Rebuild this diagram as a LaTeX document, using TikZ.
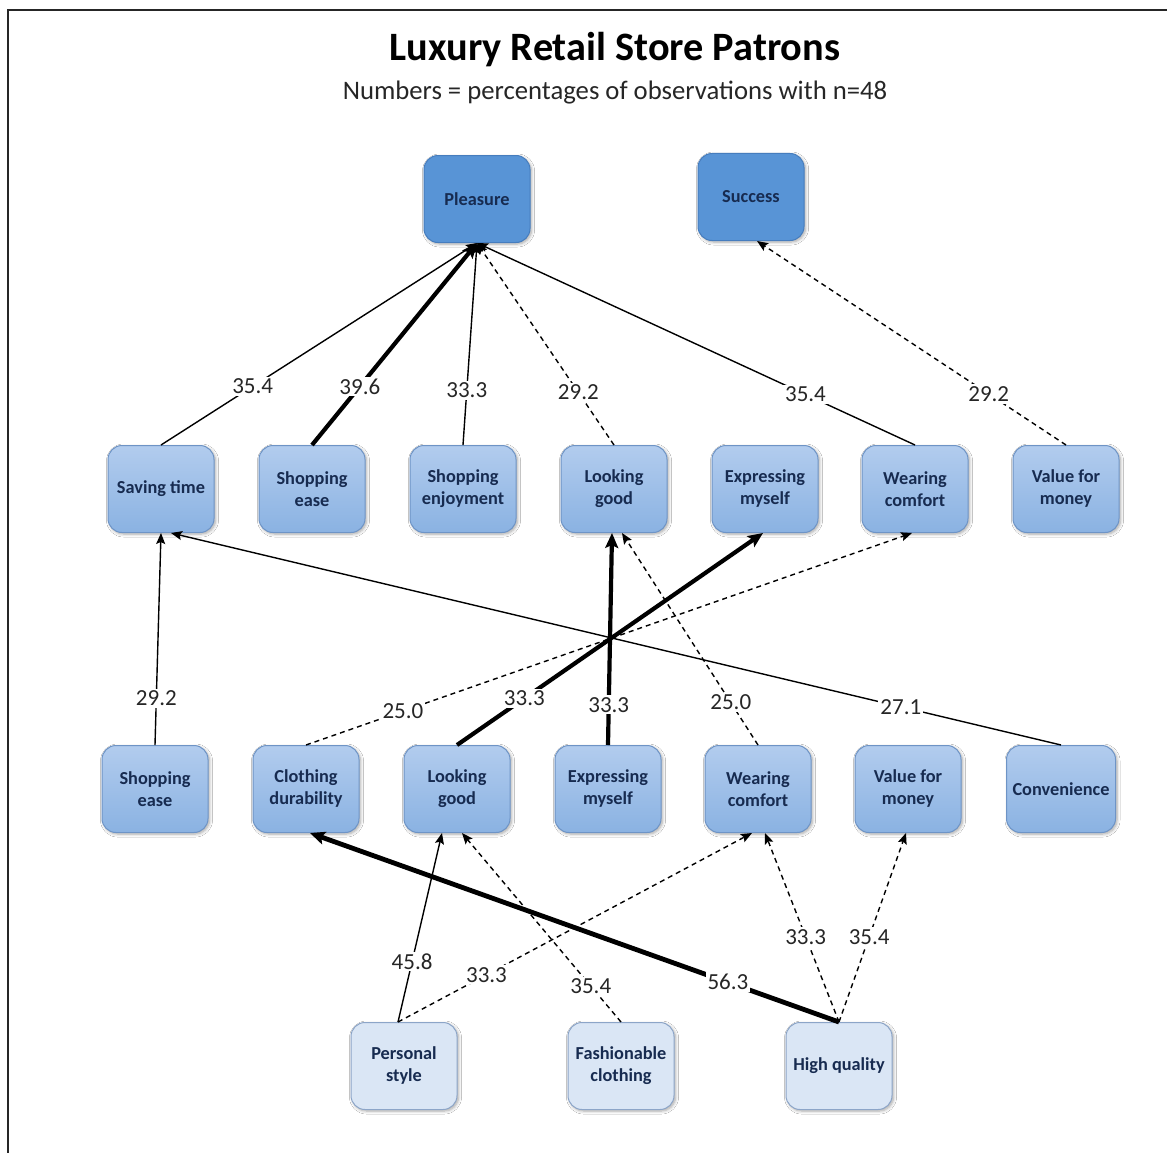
\documentclass[tikz,border=0pt]{standalone}
\usepackage{fontspec}
\setmainfont{Carlito}
\usetikzlibrary{arrows.meta,shadows.blur}

\definecolor{navytext}{RGB}{23,43,80}
\definecolor{labelgray}{RGB}{38,38,38}
\definecolor{goalfill}{RGB}{88,148,214}
\definecolor{goalborder}{RGB}{70,125,190}
\definecolor{midtop}{RGB}{178,204,238}
\definecolor{midbot}{RGB}{138,178,226}
\definecolor{midborder}{RGB}{110,148,198}
\definecolor{attrfill}{RGB}{218,230,245}
\definecolor{attrborder}{RGB}{140,165,200}

\tikzset{
  box/.style={rounded corners=14pt, minimum width=106pt, minimum height=87pt,
    align=center, inner sep=2pt, line width=1pt, text=navytext,
    font=\bfseries\fontsize{18.3}{22}\selectfont,
    blur shadow={shadow blur steps=6, shadow xshift=1.5pt, shadow yshift=-1.5pt,
      shadow opacity=35, shadow blur radius=3pt}},
  goal/.style={box, draw=goalborder, fill=goalfill},
  mid/.style={box, draw=midborder, top color=midtop, bottom color=midbot},
  attr/.style={box, draw=attrborder, fill=attrfill},
  thinedge/.style={line width=1.4pt, -{Stealth[length=11pt,width=9pt,inset=2pt]}},
  thickedge/.style={line width=4.2pt, -{Stealth[length=15pt,width=13pt,inset=3pt]}},
  dashedge/.style={line width=1.4pt, dash pattern=on 5pt off 4pt,
    -{Stealth[length=11pt,width=9pt,inset=2pt]}},
  lbl/.style={fill=white, inner sep=2pt, text=labelgray,
    font=\fontsize{23}{23}\selectfont},
}

\begin{document}
\begin{tikzpicture}[x=1pt,y=-1pt]
\useasboundingbox (0,0) rectangle (1167,1153);
\fill[white] (0,0) rectangle (1167,1153);

% page frame
\draw[line width=2pt, black!85] (8,1153) -- (8,10) -- (1167,10);

% headings
\node (title) at (615,50) {\bfseries\fontsize{40.3}{40}\selectfont Luxury Retail Store Patrons};
\node[text=labelgray] (subtitle) at (615,93) {\fontsize{26.7}{27}\selectfont Numbers = percentages of observations with n=48};

% values
\node[goal] (pl) at (477,199) {Pleasure};
\node[goal] (su) at (751,197) {Success};

% consequences
\node[mid] (st)  at (161,489)  {Saving time};
\node[mid] (se2) at (312,489)  {Shopping\\ease};
\node[mid] (sj)  at (463,489)  {Shopping\\enjoyment};
\node[mid] (lg2) at (614,489)  {Looking\\good};
\node[mid] (em2) at (765,489)  {Expressing\\myself};
\node[mid] (wc2) at (915,489)  {Wearing\\comfort};
\node[mid] (vm2) at (1066,489) {Value for\\money};

\node[mid] (se3) at (155,789)  {Shopping\\ease};
\node[mid] (cd)  at (306,789)  {Clothing\\durability};
\node[mid] (lg3) at (457,789)  {Looking\\good};
\node[mid] (em3) at (608,789)  {Expressing\\myself};
\node[mid] (wc3) at (758,789)  {Wearing\\comfort};
\node[mid] (vm3) at (908,789)  {Value for\\money};
\node[mid, minimum width=109pt] (cv) at (1061,789) {Convenience};

% attributes
\node[attr] (ps) at (404,1066) {Personal\\style};
\node[attr] (fc) at (621,1066) {Fashionable\\clothing};
\node[attr] (hq) at (839,1066) {High quality};

% links to the values
\draw[thinedge]  (st.north)  -- node[lbl,pos=.29]{35.4} (pl.south);
\draw[thickedge] (se2.north) -- node[lbl,pos=.29]{39.6} (pl.south);
\draw[thinedge]  (sj.north)  -- node[lbl,pos=.27]{33.3} (pl.south);
\draw[dashedge]  (lg2.north) -- node[lbl,pos=.26]{29.2} (pl.south);
\draw[thinedge]  (wc2.north) -- node[lbl,pos=.25]{35.4} (pl.south);
\draw[dashedge]  (vm2.north) -- node[lbl,pos=.25]{29.2} ([xshift=6pt]su.south);

% links between consequences
\draw[thinedge]  (se3.north) -- node[lbl,pos=.22]{29.2} (st.south);
\draw[thinedge]  (cv.north)  -- node[lbl,pos=.18]{27.1} ([xshift=10pt]st.south);
\draw[dashedge]  (cd.north)  -- node[lbl,pos=.16]{25.0} ([xshift=-3pt]wc2.south);
\draw[thickedge] (lg3.north) -- node[lbl,pos=.22]{33.3} ([xshift=-2pt]em2.south);
\draw[thickedge] (em3.north) -- node[lbl,pos=.19]{33.3} ([xshift=-2pt]lg2.south);
\draw[dashedge]  (wc3.north) -- node[lbl,pos=.20]{25.0} ([xshift=8pt]lg2.south);

% links from the attributes
\draw[thinedge]  ([xshift=-6pt]ps.north) -- node[lbl,pos=.32]{45.8} ([xshift=-15pt]lg3.south);
\draw[dashedge]  ([xshift=-6pt]ps.north) -- node[lbl,pos=.25]{33.3} ([xshift=-6pt]wc3.south);
\draw[dashedge]  (fc.north) -- node[lbl,pos=.19]{35.4} ([xshift=5pt]lg3.south);
\draw[thickedge, line width=4.8pt] (hq.north) -- node[lbl,pos=.21]{56.3} ([xshift=4pt]cd.south);
\draw[dashedge]  (hq.north) -- node[lbl,pos=.45]{33.3} ([xshift=7pt]wc3.south);
\draw[dashedge]  (hq.north) -- node[lbl,pos=.45]{35.4} ([xshift=-2pt]vm3.south);
\end{tikzpicture}
\end{document}
